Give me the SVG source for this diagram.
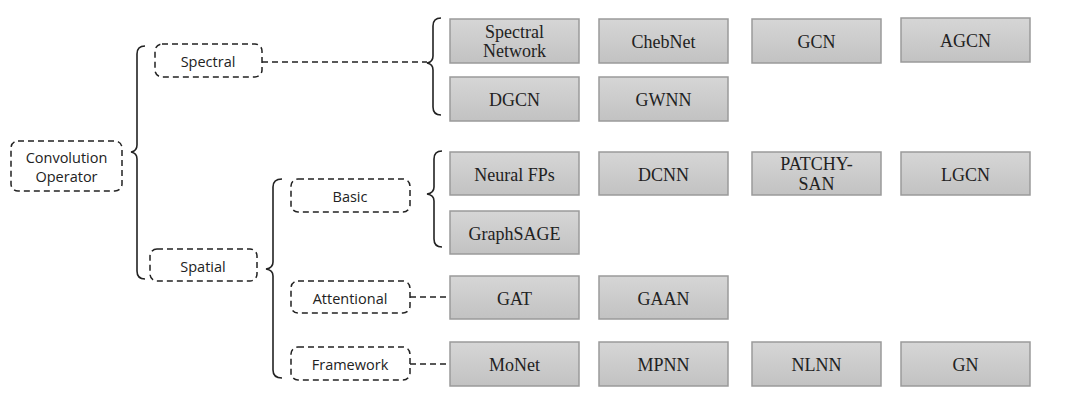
<svg xmlns="http://www.w3.org/2000/svg" width="1074" height="408" viewBox="0 0 1074 408">
<defs>
<linearGradient id="g" x1="0" y1="0" x2="0" y2="1">
<stop offset="0" stop-color="#d6d6d6"/>
<stop offset="1" stop-color="#c2c2c2"/>
</linearGradient>
<style>
.box{fill:url(#g);stroke:#9a9a9a;stroke-width:1.5}
.bt{font-family:"Liberation Serif",serif;font-size:18px;fill:#222;text-anchor:middle;dominant-baseline:central}
.cat{fill:#fff;stroke:#222;stroke-width:1.5;stroke-dasharray:6 4}
.ct{font-family:"Open Sans","Liberation Sans",sans-serif;font-size:14.5px;fill:#222;text-anchor:middle;dominant-baseline:central}
.br{fill:none;stroke:#222;stroke-width:1.6}
.dl{fill:none;stroke:#222;stroke-width:1.5;stroke-dasharray:6 4}
</style>
</defs>
<rect width="1074" height="408" fill="#fff"/>
<g id="connectors">
<path class="br" d="M145,46 Q137,46 137,54 L137,145 Q137,151 131,152 Q137,153 137,159 L137,271 Q137,279 145,279"/>
<path class="br" d="M441,18 Q433,18 433,26 L433,56 Q433,62 427,63 Q433,64 433,70 L433,107 Q433,115 441,115"/>
<path class="br" d="M282,179 Q273,179 273,187 L273,262 Q273,268 266,269 Q273,270 273,276 L273,370 Q273,378 282,378"/>
<path class="br" d="M442,151 Q434,151 434,159 L434,187 Q434,193 427,194 Q434,195 434,201 L434,239 Q434,247 442,247"/>
<path class="dl" d="M262,62 L427,62"/>
<path class="dl" d="M410,297 L450,297"/>
<path class="dl" d="M410,364 L450,364"/>
</g>
<g id="n-conv"><rect class="cat" x="11" y="141" width="111" height="50" rx="7"/><text class="ct" x="66.5" y="157">Convolution</text><text class="ct" x="66.5" y="176">Operator</text></g>
<g id="n-spectral"><rect class="cat" x="155" y="44" width="107" height="33" rx="7"/><text class="ct" x="208" y="61">Spectral</text></g>
<g id="n-spatial"><rect class="cat" x="150" y="249" width="107" height="32" rx="7"/><text class="ct" x="203" y="266">Spatial</text></g>
<g id="n-basic"><rect class="cat" x="291" y="179" width="119" height="33" rx="7"/><text class="ct" x="350" y="196">Basic</text></g>
<g id="n-attentional"><rect class="cat" x="291" y="281" width="119" height="32" rx="7"/><text class="ct" x="350" y="298">Attentional</text></g>
<g id="n-framework"><rect class="cat" x="291" y="347" width="119" height="33" rx="7"/><text class="ct" x="350" y="364">Framework</text></g>

<g id="n-specnet"><rect class="box" x="450" y="19" width="129" height="44"/><text class="bt" x="514.5" y="32">Spectral</text><text class="bt" x="514.5" y="51">Network</text></g>
<g id="n-chebnet"><rect class="box" x="599" y="19" width="129" height="44"/><text class="bt" x="663.5" y="42">ChebNet</text></g>
<g id="n-gcn"><rect class="box" x="752" y="19" width="129" height="44"/><text class="bt" x="816.5" y="42">GCN</text></g>
<g id="n-agcn"><rect class="box" x="901" y="18" width="129" height="44"/><text class="bt" x="965.5" y="41">AGCN</text></g>
<g id="n-dgcn"><rect class="box" x="450" y="77" width="129" height="44"/><text class="bt" x="514.5" y="100">DGCN</text></g>
<g id="n-gwnn"><rect class="box" x="599" y="77" width="129" height="44"/><text class="bt" x="663.5" y="100">GWNN</text></g>

<g id="n-neuralfps"><rect class="box" x="450" y="152" width="129" height="43"/><text class="bt" x="514.5" y="175">Neural FPs</text></g>
<g id="n-dcnn"><rect class="box" x="599" y="152" width="129" height="43"/><text class="bt" x="663.5" y="175">DCNN</text></g>
<g id="n-patchy"><rect class="box" x="752" y="152" width="129" height="43"/><text class="bt" x="816.5" y="164">PATCHY-</text><text class="bt" x="816.5" y="184">SAN</text></g>
<g id="n-lgcn"><rect class="box" x="901" y="152" width="129" height="43"/><text class="bt" x="965.5" y="175">LGCN</text></g>
<g id="n-graphsage"><rect class="box" x="450" y="211" width="129" height="43"/><text class="bt" x="514.5" y="234">GraphSAGE</text></g>

<g id="n-gat"><rect class="box" x="450" y="276" width="129" height="43"/><text class="bt" x="514.5" y="299">GAT</text></g>
<g id="n-gaan"><rect class="box" x="599" y="276" width="129" height="43"/><text class="bt" x="663.5" y="299">GAAN</text></g>

<g id="n-monet"><rect class="box" x="450" y="342" width="129" height="44"/><text class="bt" x="514.5" y="365">MoNet</text></g>
<g id="n-mpnn"><rect class="box" x="599" y="342" width="129" height="44"/><text class="bt" x="663.5" y="365">MPNN</text></g>
<g id="n-nlnn"><rect class="box" x="752" y="342" width="129" height="44"/><text class="bt" x="816.5" y="365">NLNN</text></g>
<g id="n-gn"><rect class="box" x="901" y="342" width="129" height="44"/><text class="bt" x="965.5" y="365">GN</text></g>
</svg>
